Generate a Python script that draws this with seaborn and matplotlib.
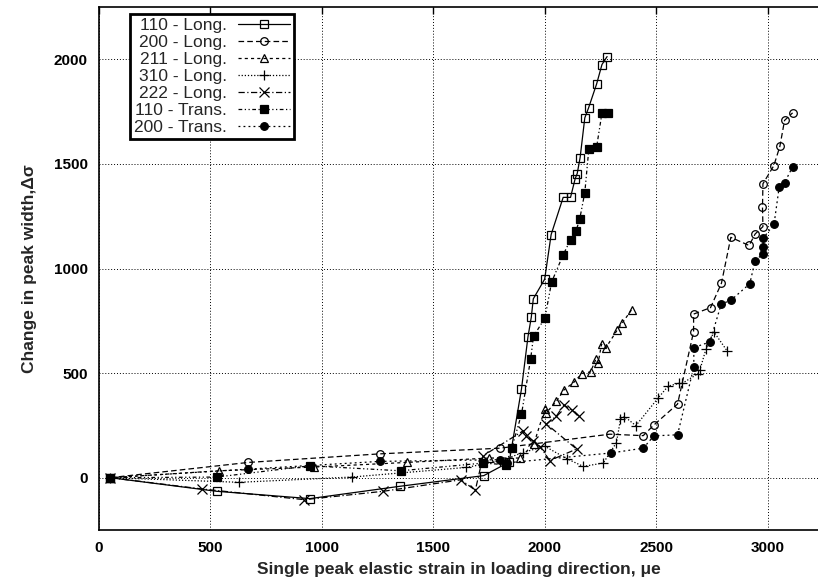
import numpy as np
import pandas as pd
import matplotlib
matplotlib.use("Agg")
import matplotlib.pyplot as plt
import seaborn as sns

# ---------------- data ----------------
labels = ["110 - Long.", "200 - Long.", "211 - Long.", "310 - Long.",
          "222 - Long.", "110 - Trans.", "200 - Trans."]

x110L = [50, 528, 946, 1350, 1726, 1840, 1895, 1924, 1939, 1948, 1999, 2028, 2082, 2115,
         2136, 2145, 2158, 2179, 2196, 2232, 2256, 2279]
y110L = [0, -65, -100, -41, 10, 75, 424, 673, 767, 855, 949, 1162, 1340, 1340,
         1430, 1454, 1530, 1720, 1768, 1882, 1975, 2013]

x200L = [50, 670, 1260, 1798, 2291, 2441, 2489, 2595, 2667, 2667, 2743, 2792, 2834, 2916,
         2943, 2978, 2976, 2978, 3027, 3054, 3075, 3111]
y200L = [0, 73, 114, 141, 208, 201, 252, 352, 698, 782, 813, 930, 1149, 1110,
         1165, 1200, 1292, 1405, 1492, 1584, 1708, 1744]

x211L = [50, 538, 966, 1380, 1750, 1888, 1950, 2000, 2004, 2052, 2085, 2130, 2166, 2205,
         2229, 2239, 2254, 2274, 2324, 2348, 2389]
y211L = [0, 33, 51, 73, 94, 94, 160, 328, 308, 365, 419, 456, 498, 506,
         567, 549, 638, 622, 705, 741, 803]

x310L = [50, 629, 1133, 1646, 1800, 1900, 2000, 2100, 2172, 2262, 2321, 2339, 2357, 2408,
         2508, 2553, 2602, 2616, 2688, 2695, 2722, 2758, 2818]
y310L = [0, -22, 3, 49, 80, 120, 150, 90, 54, 70, 168, 279, 292, 249,
         381, 438, 451, 451, 498, 514, 613, 697, 605]

x222L = [50, 463, 921, 1275, 1623, 1688, 1723, 1903, 1917, 1948, 1978, 2022, 2142,
         2007, 2052, 2085, 2120, 2154]
y222L = [0, -54, -105, -65, -10, -60, 105, 224, 197, 176, 149, 82, 137,
         257, 295, 348, 324, 295]

x110T = [50, 528, 946, 1353, 1723, 1825, 1851, 1895, 1936, 1949, 2000, 2030, 2081, 2115,
         2140, 2156, 2179, 2197, 2232, 2256, 2283]
y110T = [0, 3, 57, 33, 70, 62, 141, 303, 567, 676, 763, 935, 1063, 1138,
         1181, 1235, 1363, 1570, 1581, 1743, 1744]

x200T = [50, 670, 1260, 1798, 1830, 2295, 2441, 2489, 2595, 2668, 2668, 2740, 2791, 2834,
         2919, 2943, 2979, 2979, 2979, 3028, 3051, 3075, 3111]
y200T = [0, 41, 78, 86, 71, 118, 141, 200, 205, 530, 622, 649, 830, 848,
         927, 1038, 1070, 1101, 1144, 1213, 1390, 1410, 1486]

xs = [x110L, x200L, x211L, x310L, x222L, x110T, x200T]
ys = [y110L, y200L, y211L, y310L, y222L, y110T, y200T]

x_ticks = [0, 500, 1000, 1500, 2000, 2500, 3000]
y_ticks = [0, 500, 1000, 1500, 2000]

# ---------------- styles ----------------
styles = [
    dict(linestyle="-", marker="s", mfc="none"),
    dict(linestyle=(0, (4.5, 2.5)), marker="o", mfc="none"),
    dict(linestyle=(0, (2.5, 2.5)), marker="^", mfc="none"),
    dict(linestyle=(0, (1, 1.5)), marker="+", mfc="none"),
    dict(linestyle=(0, (5, 2, 1, 2)), marker="x", mfc="none"),
    dict(linestyle=(0, (3, 2, 1, 2, 1, 2)), marker="s", mfc="black"),
    dict(linestyle=(0, (1.5, 2.5)), marker="o", mfc="black"),
]
msizes = [5.5, 5.5, 6, 7, 6.5, 5.5, 5.5]

sns.set_theme(style="white")
plt.rcParams["font.family"] = ["Liberation Sans", "DejaVu Sans"]

fig = plt.figure(figsize=(8.18, 5.88), dpi=100)
ax = fig.add_axes([99 / 818, 1 - 530 / 588, 1 - 99 / 818, (530 - 7) / 588])

for lab, x, y, st, ms in zip(labels, xs, ys, styles, msizes):
    df = pd.DataFrame({"x": x, "y": y})
    sns.lineplot(data=df, x="x", y="y", sort=False, estimator=None, ax=ax,
                 color="black", linewidth=0.9, linestyle=st["linestyle"],
                 marker=st["marker"], markersize=ms, markerfacecolor=st["mfc"],
                 markeredgecolor="black", markeredgewidth=0.9, label=lab)

ax.set_xlim(0, 3225)
ax.set_ylim(-250, 2250)
ax.set_xticks(x_ticks)
ax.set_yticks(y_ticks)
ax.grid(True, color="black", linestyle=(0, (1, 2)), linewidth=0.7)
ax.tick_params(direction="in", length=5, width=1, top=True, right=False,
               labelsize=11, colors="black", pad=8)
for t in ax.get_xticklabels() + ax.get_yticklabels():
    t.set_fontweight("bold")
for s in ["left", "bottom", "top"]:
    ax.spines[s].set_color("black")
    ax.spines[s].set_linewidth(1.2)
ax.spines["right"].set_visible(False)

ax.set_xlabel("Single peak elastic strain in loading direction, \u03bce",
              fontsize=12.5, fontweight="bold", labelpad=5)
ax.set_ylabel("Change in peak width,\u0394\u03c3", fontsize=12.5, fontweight="bold",
              labelpad=12)

leg = ax.legend(loc="upper left", bbox_to_anchor=(0.043, 0.987), markerfirst=False,
                frameon=True, fancybox=False, edgecolor="black", fontsize=12.5,
                handlelength=3.0, labelspacing=0.1, borderpad=0.25, handletextpad=0.6,
                borderaxespad=0)
leg.get_frame().set_linewidth(2)
leg.get_frame().set_facecolor("white")
leg.get_frame().set_alpha(1)

fig.savefig("out.png", dpi=100)
